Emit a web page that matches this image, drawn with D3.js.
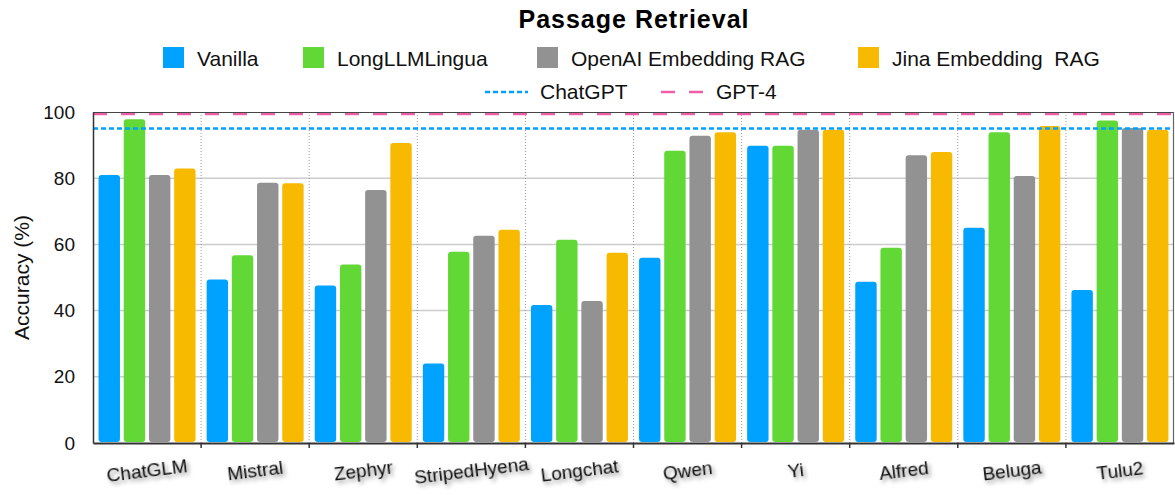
<!DOCTYPE html>
<html>
<head>
<meta charset="utf-8">
<script src="https://cdn.jsdelivr.net/npm/d3@7"></script>
<style>
  body { margin: 0; background: #fff; }
  svg { font-family: "Liberation Sans", Arial, Helvetica, sans-serif; }
</style>
</head>
<body>
<div id="chart"></div>
<script>
// data
const categories = ["ChatGLM", "Mistral", "Zephyr", "StripedHyena", "Longchat", "Qwen", "Yi", "Alfred", "Beluga", "Tulu2"];
const seriesNames = ["Vanilla", "LongLLMLingua", "OpenAI Embedding RAG", "Jina Embedding  RAG"];
const vanilla = [81.0, 49.4, 47.6, 24.0, 41.7, 56.0, 89.8, 48.7, 65.0, 46.2];
const longLLMLingua = [97.8, 56.7, 53.9, 57.8, 61.4, 88.3, 89.8, 59.0, 93.9, 97.4];
const openaiRag = [81.0, 78.6, 76.4, 62.6, 42.9, 92.8, 94.6, 86.9, 80.7, 95.2];
const jinaRag = [82.9, 78.5, 90.6, 64.4, 57.5, 93.9, 94.6, 87.9, 95.8, 94.6];
const refNames = ["ChatGPT", "GPT-4"];
const refValues = [95.0, 99.4];
const yTicks = [0, 20, 40, 60, 80, 100];

const colors = ["#00A2FF", "#61D836", "#929292", "#F8BA00"];
const refColors = ["#00A2FF", "#EF5FA7"];
const refDash = ["5,3", "14,14"];

const width = 1175;
const height = 495;
const margin = { top: 112, right: 1, bottom: 52, left: 93 };

const allSeries = [vanilla, longLLMLingua, openaiRag, jinaRag];
const rows = categories.map((c, i) => ({
  cat: c,
  vals: seriesNames.map((s, j) => ({ key: s, idx: j, value: allSeries[j][i] }))
}));

const svg = d3.select("#chart")
  .append("svg")
  .attr("width", width)
  .attr("height", height);

const defs = svg.append("defs");
const shadow = defs.append("filter").attr("id", "shadow")
  .attr("x", "-20%").attr("y", "-50%").attr("width", "140%").attr("height", "200%");
shadow.append("feDropShadow")
  .attr("dx", 2).attr("dy", 3).attr("stdDeviation", 2.3)
  .attr("flood-color", "#000").attr("flood-opacity", 0.45);

const x0 = d3.scaleBand()
  .domain(categories)
  .range([margin.left, width - margin.right])
  .padding(0);

const x1 = d3.scaleBand()
  .domain(seriesNames)
  .range([0, x0.bandwidth()])
  .paddingInner(0.15)
  .paddingOuter(0.22);

const y = d3.scaleLinear()
  .domain([0, 100])
  .range([height - margin.bottom, margin.top]);

// title
svg.append("text")
  .attr("x", 634)
  .attr("y", 28)
  .attr("text-anchor", "middle")
  .attr("font-size", 25)
  .attr("font-weight", "bold")
  .attr("letter-spacing", 1)
  .attr("fill", "#000")
  .text("Passage Retrieval");

// legend row 1 (bars)
const legX = [163, 303, 537, 858];
const leg = svg.append("g");
seriesNames.forEach((s, i) => {
  leg.append("rect")
    .attr("x", legX[i]).attr("y", 47)
    .attr("width", 21).attr("height", 21)
    .attr("fill", colors[i]);
  leg.append("text")
    .attr("x", legX[i] + 34).attr("y", 66)
    .attr("font-size", 21)
    .style("white-space", "pre")
    .attr("fill", "#111")
    .text(s);
});

// legend row 2 (reference lines)
const refLegX = [485, 661];
refNames.forEach((s, i) => {
  leg.append("line")
    .attr("x1", refLegX[i]).attr("x2", refLegX[i] + 43)
    .attr("y1", 92).attr("y2", 92)
    .attr("stroke", refColors[i])
    .attr("stroke-width", 2.5)
    .attr("stroke-dasharray", refDash[i]);
  leg.append("text")
    .attr("x", refLegX[i] + 55).attr("y", 99)
    .attr("font-size", 21)
    .attr("fill", "#111")
    .text(s);
});

// horizontal grid
svg.append("g")
  .selectAll("line")
  .data(yTicks.filter(d => d > 0 && d < 100))
  .join("line")
  .attr("x1", margin.left).attr("x2", width - margin.right)
  .attr("y1", d => y(d)).attr("y2", d => y(d))
  .attr("stroke", "#cccccc")
  .attr("stroke-width", 1.5);

// dotted group separators
svg.append("g")
  .selectAll("line")
  .data(categories.slice(1))
  .join("line")
  .attr("x1", d => x0(d)).attr("x2", d => x0(d))
  .attr("y1", y(100)).attr("y2", y(0))
  .attr("stroke", "#9a9a9a")
  .attr("stroke-width", 1)
  .attr("stroke-dasharray", "1,2");

// bars
svg.append("g")
  .selectAll("g")
  .data(rows)
  .join("g")
  .attr("transform", d => `translate(${x0(d.cat)},0)`)
  .selectAll("rect")
  .data(d => d.vals)
  .join("rect")
  .attr("x", d => x1(d.key))
  .attr("y", d => y(d.value))
  .attr("width", x1.bandwidth())
  .attr("height", d => y(0) - y(d.value) - 1)
  .attr("rx", 3)
  .attr("fill", d => colors[d.idx]);

// reference lines
svg.append("g")
  .selectAll("line")
  .data(refValues)
  .join("line")
  .attr("x1", margin.left).attr("x2", width - margin.right)
  .attr("y1", d => y(d)).attr("y2", d => y(d))
  .attr("stroke", (d, i) => refColors[i])
  .attr("stroke-width", 2.5)
  .attr("stroke-dasharray", (d, i) => refDash[i]);

// frame
svg.append("line")
  .attr("x1", margin.left).attr("x2", width - margin.right)
  .attr("y1", y(100) + 0.5).attr("y2", y(100) + 0.5)
  .attr("stroke", "#444").attr("stroke-width", 1.2);
svg.append("line")
  .attr("x1", width - margin.right - 0.5).attr("x2", width - margin.right - 0.5)
  .attr("y1", y(100)).attr("y2", y(0))
  .attr("stroke", "#666").attr("stroke-width", 1.2);

// y axis
const yAxis = svg.append("g")
  .attr("transform", `translate(${margin.left},0)`)
  .call(d3.axisLeft(y).tickValues(yTicks).tickSize(0).tickPadding(18));
yAxis.select(".domain").attr("stroke", "#333").attr("stroke-width", 1.5);
yAxis.selectAll("text").attr("font-size", 19).attr("fill", "#111")
  .attr("font-family", "Liberation Sans, Arial, sans-serif");

svg.append("text")
  .attr("transform", `translate(29,${(y(0) + y(100)) / 2}) rotate(-90)`)
  .attr("text-anchor", "middle")
  .attr("font-size", 21)
  .attr("fill", "#111")
  .text("Accuracy (%)");

// x axis
const xAxis = svg.append("g")
  .attr("transform", `translate(0,${y(0)})`)
  .call(d3.axisBottom(x0).tickSize(0).tickFormat(""));
xAxis.select(".domain").attr("stroke", "#333").attr("stroke-width", 2);
xAxis.selectAll(".tick").remove();

svg.append("g")
  .selectAll("line")
  .data(categories.slice(1))
  .join("line")
  .attr("x1", d => x0(d)).attr("x2", d => x0(d))
  .attr("y1", y(0)).attr("y2", y(0) + 5)
  .attr("stroke", "#333").attr("stroke-width", 1.5);

svg.append("g")
  .selectAll("text")
  .data(categories)
  .join("text")
  .attr("transform", d => `translate(${x0(d) + x0.bandwidth() / 2},470) rotate(-7)`)
  .attr("text-anchor", "middle")
  .attr("dominant-baseline", "central")
  .attr("font-size", 19)
  .attr("fill", "#111")
  .attr("filter", "url(#shadow)")
  .text(d => d);
</script>
</body>
</html>
